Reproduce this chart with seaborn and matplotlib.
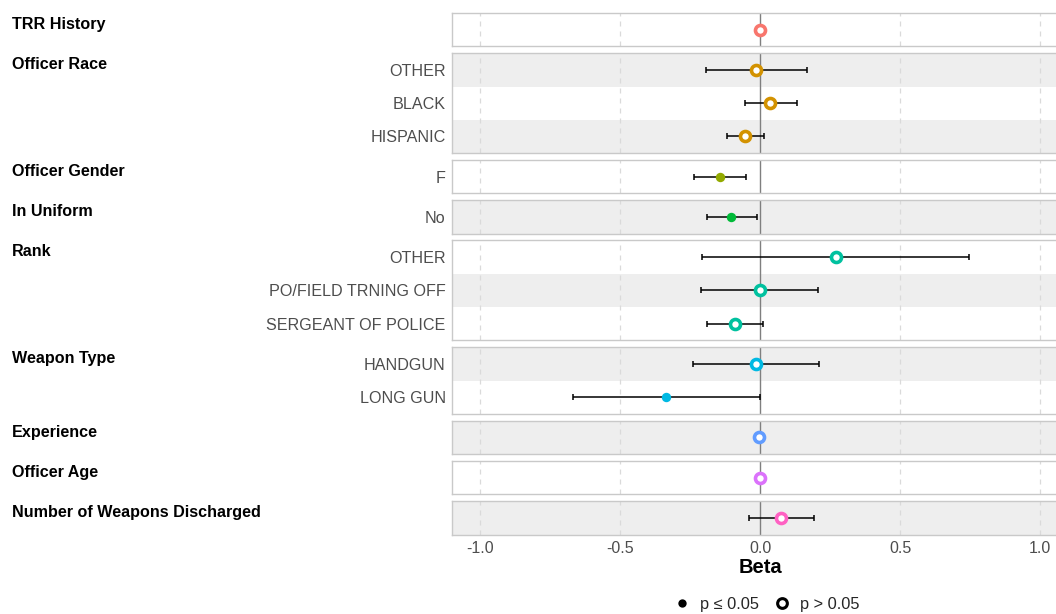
import numpy as np
import pandas as pd
import matplotlib
matplotlib.use("Agg")
import matplotlib.pyplot as plt
from matplotlib.lines import Line2D
import seaborn as sns

# ---- model coefficients ---------------------------------------------------
groups = ["TRR History", "Officer Race", "Officer Race", "Officer Race",
          "Officer Gender", "In Uniform", "Rank", "Rank", "Rank",
          "Weapon Type", "Weapon Type", "Experience", "Officer Age",
          "Number of Weapons Discharged"]
levels = ["", "OTHER", "BLACK", "HISPANIC", "F", "No", "OTHER",
          "PO/FIELD TRNING OFF", "SERGEANT OF POLICE", "HANDGUN", "LONG GUN",
          "", "", ""]
estimate = [0.000, -0.014, 0.037, -0.052, -0.143, -0.103, 0.270, -0.001,
            -0.089, -0.016, -0.337, -0.002, 0.000, 0.075]
ci_low = [-0.004, -0.193, -0.055, -0.119, -0.235, -0.190, -0.208, -0.209,
          -0.188, -0.240, -0.669, -0.006, -0.003, -0.040]
ci_high = [0.004, 0.168, 0.131, 0.015, -0.051, -0.012, 0.745, 0.207,
           0.011, 0.211, 0.000, 0.002, 0.003, 0.193]
significant = [False, False, False, False, True, True, False, False,
               False, False, True, False, False, False]

group_order = ["TRR History", "Officer Race", "Officer Gender", "In Uniform",
               "Rank", "Weapon Type", "Experience", "Officer Age",
               "Number of Weapons Discharged"]
group_colors = ["#F8766D", "#D39200", "#93AA00", "#00BA38", "#00C19F",
                "#00B9E3", "#619CFF", "#DB72FB", "#FF61C3"]
x_ticks = [-1.0, -0.5, 0.0, 0.5, 1.0]
x_tick_labels = ["-1.0", "-0.5", "0.0", "0.5", "1.0"]

df = pd.DataFrame({"group": groups, "level": levels, "estimate": estimate,
                   "low": ci_low, "high": ci_high, "sig": significant})
df["stripe"] = np.arange(len(df)) % 2 == 1

# ---- styling --------------------------------------------------------------
sns.set_theme(style="white")
plt.rcParams["font.family"] = ["Liberation Sans", "DejaVu Sans"]

W, H = 1056, 614
fig = plt.figure(figsize=(W / 100, H / 100), dpi=100)

row_h, gap, top0 = 33.25, 7.0, 13.0
ax_left, ax_right = 452, 1068   # panels run slightly past the right edge
text_gray = "#4D4D4D"
border = "#C9C9C9"
stripe_gray = "#EEEEEE"

top = top0
for gi, (grp, col) in enumerate(zip(group_order, group_colors)):
    sub = df[df["group"] == grp].reset_index(drop=True)
    n = len(sub)
    h = n * row_h
    ax = fig.add_axes([ax_left / W, 1 - (top + h) / H,
                       (ax_right - ax_left) / W, h / H])
    sub["row"] = np.arange(n)

    ax.set_xlim(-1.1, 1.1)
    ax.set_ylim(n - 0.5, -0.5)

    for r, striped in enumerate(sub["stripe"]):
        if striped:
            ax.axhspan(r - 0.5, r + 0.5, color=stripe_gray, lw=0, zorder=0)
    for xv in [-1.0, -0.5, 0.5, 1.0]:
        ax.axvline(xv, color="#DADADA", lw=0.9, ls=(0, (4, 4)), zorder=1)
    ax.axvline(0, color="#7F7F7F", lw=1.0, zorder=2)

    ax.errorbar(sub["estimate"], sub["row"],
                xerr=[sub["estimate"] - sub["low"], sub["high"] - sub["estimate"]],
                fmt="none", ecolor="black", elinewidth=1.1, capsize=2.5,
                capthick=1.1, zorder=3)

    filled = sub[sub["sig"]]
    hollow = sub[~sub["sig"]]
    if len(filled):
        sns.scatterplot(data=filled, x="estimate", y="row", ax=ax, color=col,
                        s=46, linewidth=0, zorder=4, legend=False)
    if len(hollow):
        sns.scatterplot(data=hollow, x="estimate", y="row", ax=ax,
                        facecolor="white", edgecolor=col, s=52,
                        linewidth=2.6, zorder=4, legend=False)

    ax.set_yticks(sub["row"])
    ax.set_yticklabels(sub["level"], fontsize=11.6, color=text_gray)
    ax.tick_params(axis="y", length=0, pad=4.5)
    ax.set_ylabel("")
    ax.set_xlabel("")
    for sp in ax.spines.values():
        sp.set_color(border)
        sp.set_linewidth(1.0)
    ax.set_xticks(x_ticks)
    if gi == len(group_order) - 1:
        ax.set_xticklabels(x_tick_labels, fontsize=11.5, color=text_gray)
        ax.tick_params(axis="x", length=0, pad=5)
        ax.set_xlabel("Beta", fontsize=14.5, fontweight="bold", color="black",
                      labelpad=1)
    else:
        ax.set_xticklabels([])
        ax.tick_params(axis="x", length=0)

    fig.text(12 / W, 1 - (top + 11.5) / H, grp, fontsize=11.6,
             fontweight="bold", color="black", ha="left", va="center")
    top += h + gap

handles = [
    Line2D([], [], ls="none", marker="o", markersize=6, color="black",
           markeredgewidth=0),
    Line2D([], [], ls="none", marker="o", markersize=7, markerfacecolor="white",
           markeredgecolor="black", markeredgewidth=2.2),
]
fig.legend(handles, ["p ≤ 0.05", "p > 0.05"], loc="center",
           bbox_to_anchor=(766 / W, 1 - 604 / H), ncol=2, frameon=False,
           fontsize=11.8, handletextpad=0.5, columnspacing=0.8,
           handlelength=1.2)

fig.savefig("out.png", dpi=100, facecolor="white")
